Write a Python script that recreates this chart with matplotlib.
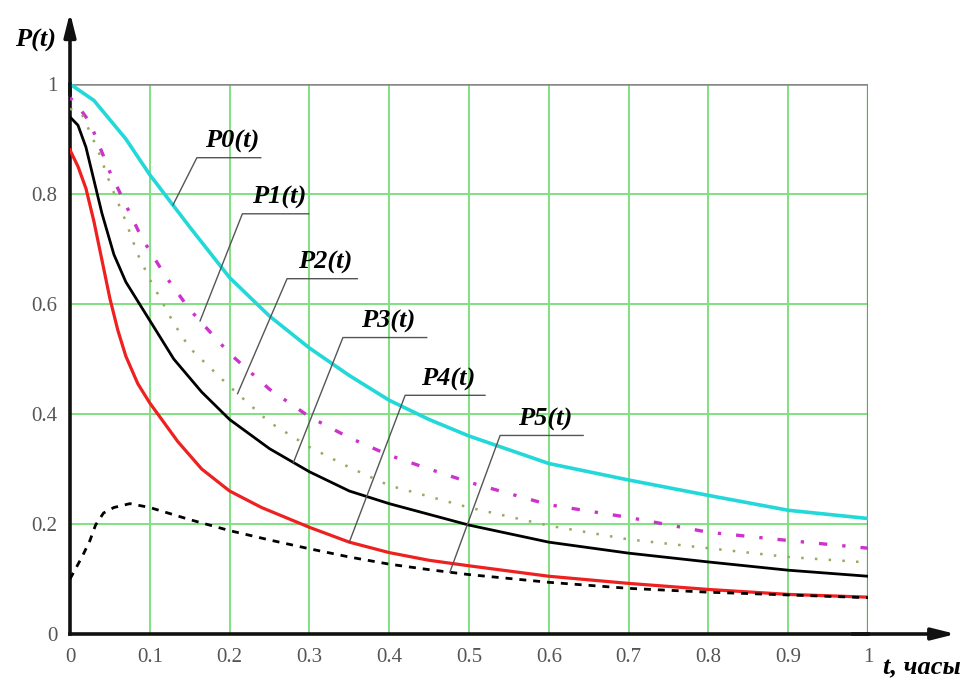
import matplotlib.pyplot as plt
import numpy as np

# values
t0 = [0, 0.03, 0.07, 0.1, 0.15, 0.2, 0.25, 0.3, 0.35, 0.4, 0.45, 0.5, 0.6, 0.7, 0.8, 0.9, 1.0]
p0 = [1.0, 0.97, 0.90, 0.835, 0.74, 0.648, 0.578, 0.52, 0.47, 0.425, 0.39, 0.36, 0.31, 0.28, 0.252, 0.225, 0.21]

t1 = [0, 0.01, 0.025, 0.05, 0.07, 0.09, 0.12, 0.15, 0.2, 0.25, 0.3, 0.35, 0.4, 0.45, 0.5, 0.6, 0.7, 0.8, 0.9, 1.0]
p1 = [0.975, 0.96, 0.93, 0.84, 0.78, 0.72, 0.65, 0.59, 0.51, 0.445, 0.395, 0.357, 0.325, 0.30, 0.276, 0.235, 0.212, 0.185, 0.17, 0.156]

t2 = [0, 0.015, 0.035, 0.05, 0.07, 0.085, 0.1, 0.115, 0.13, 0.15, 0.2, 0.25, 0.3, 0.35, 0.4, 0.5, 0.6, 0.7, 0.8, 0.9, 1.0]
p2 = [0.955, 0.945, 0.88, 0.82, 0.75, 0.69, 0.645, 0.605, 0.565, 0.52, 0.45, 0.385, 0.34, 0.303, 0.27, 0.23, 0.197, 0.172, 0.156, 0.14, 0.13]

t3 = [0, 0.01, 0.02, 0.03, 0.04, 0.055, 0.07, 0.085, 0.1, 0.13, 0.165, 0.2, 0.25, 0.3, 0.35, 0.4, 0.5, 0.6, 0.7, 0.8, 0.9, 1.0]
p3 = [0.94, 0.925, 0.885, 0.825, 0.765, 0.69, 0.64, 0.605, 0.57, 0.50, 0.44, 0.39, 0.337, 0.295, 0.26, 0.237, 0.198, 0.167, 0.147, 0.131, 0.116, 0.105]

t4 = [0, 0.01, 0.02, 0.03, 0.04, 0.05, 0.06, 0.07, 0.085, 0.1, 0.135, 0.165, 0.2, 0.24, 0.3, 0.35, 0.4, 0.45, 0.5, 0.6, 0.7, 0.8, 0.9, 1.0]
p4 = [0.88, 0.85, 0.81, 0.75, 0.68, 0.61, 0.552, 0.505, 0.455, 0.42, 0.35, 0.30, 0.26, 0.23, 0.194, 0.167, 0.148, 0.134, 0.124, 0.105, 0.092, 0.081, 0.072, 0.067]

t5 = [0, 0.015, 0.025, 0.032, 0.042, 0.055, 0.075, 0.1, 0.15, 0.2, 0.25, 0.3, 0.35, 0.4, 0.45, 0.5, 0.6, 0.7, 0.8, 0.9, 1.0]
p5 = [0.10, 0.14, 0.17, 0.198, 0.22, 0.23, 0.237, 0.23, 0.208, 0.188, 0.171, 0.155, 0.14, 0.127, 0.117, 0.108, 0.094, 0.083, 0.076, 0.071, 0.066]

labels = ['P0(t)', 'P1(t)', 'P2(t)', 'P3(t)', 'P4(t)', 'P5(t)']
xticks = [0, 0.1, 0.2, 0.3, 0.4, 0.5, 0.6, 0.7, 0.8, 0.9, 1]
yticks = [0, 0.2, 0.4, 0.6, 0.8, 1]
xlabels = ['0', '0.1', '0.2', '0.3', '0.4', '0.5', '0.6', '0.7', '0.8', '0.9', '1']
ylabels = ['0', '0.2', '0.4', '0.6', '0.8', '1']

series = [(t0, p0), (t1, p1), (t2, p2), (t3, p3), (t4, p4), (t5, p5)]
styles = [
    dict(color='#22d8d8', lw=2.6, ls='-'),
    dict(color='#cc33cc', lw=2.4, ls=(0, (1, 4.5, 2.5, 4.5))),
    dict(color='#9aa860', lw=1.8, ls=(0, (1, 4.5))),
    dict(color='black', lw=2.0, ls='-'),
    dict(color='#ee2020', lw=2.3, ls='-'),
    dict(color='black', lw=2.0, ls=(0, (2.5, 2.5))),
]

# label layout: where the leader meets the curve (t), underline start (x, y), underline length
leader_t = [0.129, 0.163, 0.21, 0.28, 0.35, 0.476]
under_xy = [(0.159, 0.866), (0.216, 0.764), (0.272, 0.646), (0.342, 0.539), (0.42, 0.434), (0.539, 0.361)]
under_len = [0.08, 0.083, 0.088, 0.105, 0.1, 0.104]

fig = plt.figure(figsize=(9.72, 6.86), dpi=100)
ax = fig.add_axes([70 / 972, 52 / 686, 798 / 972, 550 / 686])
ax.set_xlim(0, 1)
ax.set_ylim(0, 1)

grid_c = '#80e080'
for x in xticks[1:-1]:
    ax.axvline(x, color=grid_c, lw=1.4, zorder=1)
for y in yticks[1:-1]:
    ax.axhline(y, color=grid_c, lw=1.4, zorder=1)
ax.axvline(1, color='#55aa55', lw=1.6, zorder=1)
ax.axhline(1, color='#888888', lw=1.8, zorder=1)

for (t, p), st in zip(series, styles):
    ax.plot(t, p, zorder=3, **st)

serif = ['Liberation Serif', 'DejaVu Serif']
for i, lab in enumerate(labels):
    t, p = series[i]
    lt = leader_t[i]
    lp = np.interp(lt, t, p)
    ux, uy = under_xy[i]
    ax.plot([lt, ux, ux + under_len[i]], [lp, uy, uy], color='#555555', lw=1.0, zorder=4)
    ax.text(ux + under_len[i] / 2 + 0.004, uy + 0.008, lab, ha='center', va='bottom',
            fontsize=19, fontweight='bold', fontstyle='italic', family=serif, zorder=5)

for s in ['top', 'right']:
    ax.spines[s].set_visible(False)
for s in ['left', 'bottom']:
    ax.spines[s].set_linewidth(2.6)
    ax.spines[s].set_color('#111111')

ax.annotate('', xy=(1.11, 0), xytext=(0.98, 0), xycoords='axes fraction',
            arrowprops=dict(arrowstyle='-|>,head_length=1.4,head_width=0.35', lw=2.6,
                            color='#111111', shrinkA=0, shrinkB=0), annotation_clip=False)
ax.annotate('', xy=(0, 1.13), xytext=(0, 0.98), xycoords='axes fraction',
            arrowprops=dict(arrowstyle='-|>,head_length=1.4,head_width=0.35', lw=2.6,
                            color='#111111', shrinkA=0, shrinkB=0), annotation_clip=False)

ax.set_xticks(xticks)
ax.set_xticklabels(xlabels)
ax.set_yticks(yticks)
ax.set_yticklabels(ylabels)
ax.tick_params(length=0, labelsize=15, labelcolor='#555555')
ax.tick_params(axis='x', pad=10)
ax.tick_params(axis='y', pad=9)
for lbl in ax.get_xticklabels() + ax.get_yticklabels():
    lbl.set_family(serif)

fig.text(36 / 972, 1 - 40 / 686, 'P(t)', ha='center', va='center', fontsize=19,
         fontweight='bold', fontstyle='italic', family=serif)
fig.text(922 / 972, 1 - 668 / 686, 't, часы', ha='center', va='center', fontsize=19,
         fontweight='bold', fontstyle='italic', family=serif)

fig.savefig('out.png', dpi=100)
